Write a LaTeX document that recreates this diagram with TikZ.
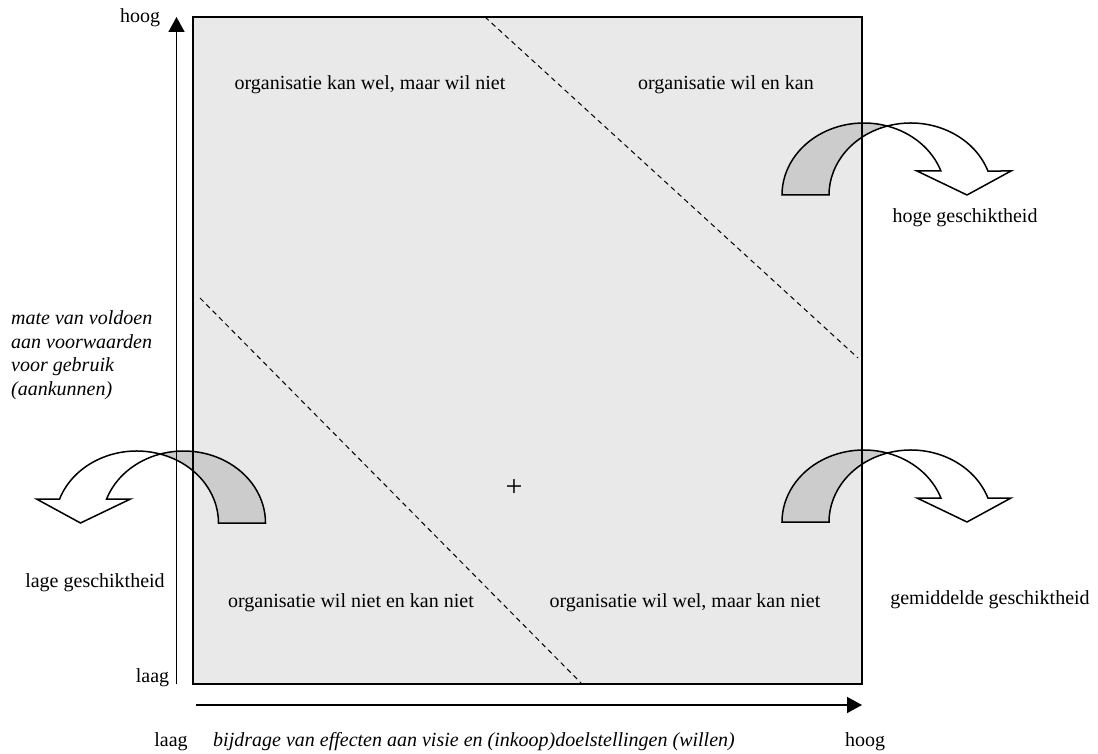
\documentclass[tikz,border=0pt]{standalone}
\usepackage{fontspec}
\setmainfont{Liberation Serif}
\usetikzlibrary{arrows.meta}
\definecolor{panel}{HTML}{E9E9E9}
\definecolor{bandgray}{HTML}{CCCCCC}

\tikzset{
  lbl/.style={inner sep=0pt, font=\fontsize{20}{23.5}\selectfont},
  axisline/.style={line width=1.6pt, -{Triangle[length=15pt,width=16pt]}},
  frame/.style={line width=2pt},
  divider/.style={line width=1pt, dash pattern=on 5pt off 4pt},
  bandline/.style={line width=1.5pt},
}

% bent arrow: grey back band rising from the left base (origin),
% white front band coming down on the right and ending in a head
\newcommand\bendarrowpaths{%
  \filldraw[bandline, fill=bandgray]
    (0,0) arc[start angle=180, end angle=73.3, x radius=81.8, y radius=72]
          arc[start angle=106.7, end angle=180, x radius=81.8, y radius=72]
    -- cycle;
  \filldraw[bandline, fill=white]
    (105.3,68.96) arc[start angle=106.7, end angle=19.47, x radius=81.8, y radius=72]
    -- (229,24) -- (185,0) -- (135,24) -- (158.9,24)
    arc[start angle=19.47, end angle=73.3, x radius=81.8, y radius=72]
    -- cycle;
}

\begin{document}
\begin{tikzpicture}[x=1pt, y=1pt]
  \useasboundingbox (0,0) rectangle (1098,-754);

  % quadrant panel
  \coordinate (boxsw) at (193,-684);
  \coordinate (boxne) at (862,-17);
  \fill[panel] (boxsw) rectangle (boxne);

  % transitions between suitability levels
  \begin{scope}[shift={(782,-195)}]
    \bendarrowpaths
  \end{scope}
  \begin{scope}[shift={(782,-522)}]
    \bendarrowpaths
  \end{scope}
  \begin{scope}[shift={(265.5,-523)}, xscale=-1]
    \bendarrowpaths
  \end{scope}

  \draw[frame] (boxsw) rectangle (boxne);

  % axes
  \coordinate (ybot) at (176.5,-684);
  \coordinate (ytop) at (176.5,-17);
  \coordinate (xleft) at (196,-705);
  \coordinate (xright) at (862,-705);
  \draw[axisline] (ybot) -- (ytop);
  \draw[axisline] (xleft) -- (xright);

  % diagonal boundaries
  \coordinate (d1a) at (485,-17);
  \coordinate (d1b) at (858,-358);
  \coordinate (d2a) at (200,-298);
  \coordinate (d2b) at (582,-684);
  \draw[divider] (d1a) -- (d1b);
  \draw[divider] (d2a) -- (d2b);

  % axis labels
  \node[lbl] (yhigh) at (140,-18) {hoog};
  \node[lbl] (ylow) at (152.5,-678) {laag};
  \node[lbl] (xlow) at (171,-742) {laag};
  \node[lbl] (xhigh) at (865,-742) {hoog};
  \node[lbl, font=\fontsize{20}{23.5}\selectfont\itshape] (xtitle) at (474,-742)
    {bijdrage van effecten aan visie en (inkoop)doelstellingen (willen)};
  \node[lbl, font=\fontsize{20}{23.5}\selectfont\itshape, align=left, anchor=west] (ytitle) at (11,-355)
    {mate van voldoen\\aan voorwaarden\\voor gebruik\\(aankunnen)};

  % quadrant labels
  \node[lbl] (q1) at (370,-85) {organisatie kan wel, maar wil niet};
  \node[lbl] (q2) at (726,-85) {organisatie wil en kan};
  \node[lbl] (q3) at (351,-603) {organisatie wil niet en kan niet};
  \node[lbl] (q4) at (685,-603) {organisatie wil wel, maar kan niet};
  \node[lbl, font=\fontsize{30}{30}\selectfont] (centre) at (514,-488) {+};

  % suitability labels
  \node[lbl] (high) at (965,-218) {hoge geschiktheid};
  \node[lbl] (mid) at (990,-600) {gemiddelde geschiktheid};
  \node[lbl] (low) at (95,-583) {lage geschiktheid};
\end{tikzpicture}
\end{document}
